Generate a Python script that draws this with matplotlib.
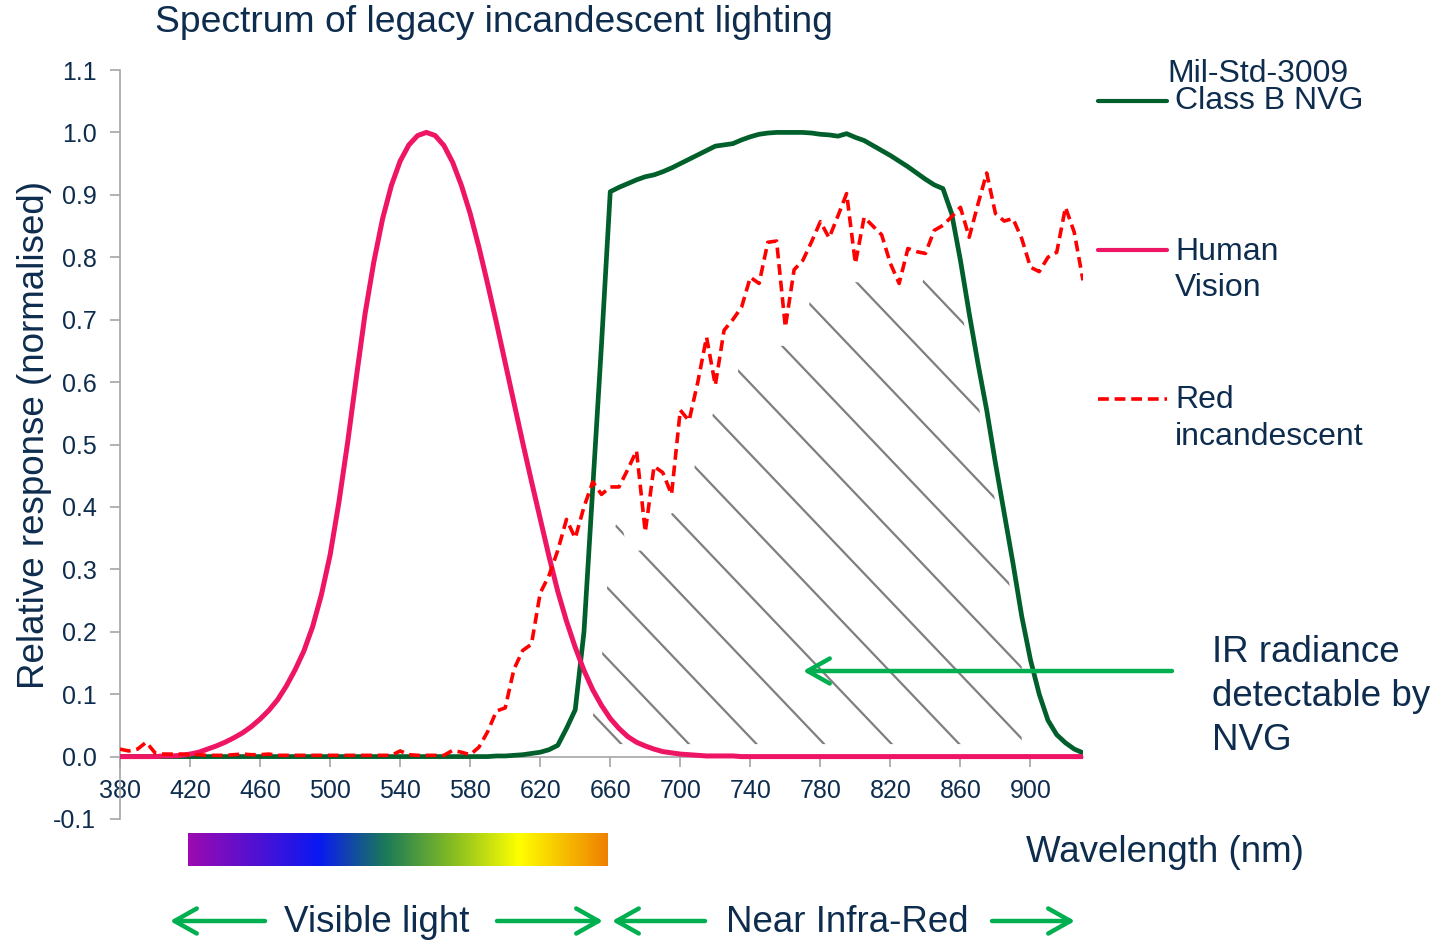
import numpy as np
import matplotlib
matplotlib.use('Agg')
from matplotlib import pyplot as plt
from matplotlib.patches import Polygon
from matplotlib.colors import LinearSegmentedColormap

plt.rcParams['font.family'] = ['Liberation Sans', 'DejaVu Sans']
plt.rcParams['axes.unicode_minus'] = False

# wavelengths (nm), 5 nm steps 380..930
wavelength = np.arange(380, 931, 5)

human_vision = [
    0.000, 0.000, 0.000, 0.000, 0.000, 0.001, 0.001, 0.002, 0.004, 0.007,
    0.012, 0.017, 0.023, 0.030, 0.038, 0.048, 0.060, 0.074, 0.091, 0.113,
    0.139, 0.169, 0.208, 0.259, 0.323, 0.407, 0.503, 0.608, 0.710, 0.793,
    0.862, 0.915, 0.954, 0.980, 0.995, 1.000, 0.995, 0.979, 0.952, 0.915,
    0.870, 0.816, 0.757, 0.695, 0.631, 0.567, 0.503, 0.441, 0.381, 0.321,
    0.265, 0.217, 0.175, 0.138, 0.107, 0.082, 0.061, 0.045, 0.032, 0.023,
    0.017, 0.012, 0.008, 0.006, 0.004, 0.003, 0.002, 0.001, 0.001, 0.001,
    0.001, 0.000, 0.000, 0.000, 0.000, 0.000, 0.000, 0.000, 0.000, 0.000,
    0.000, 0.000, 0.000, 0.000, 0.000, 0.000, 0.000, 0.000, 0.000, 0.000,
    0.000, 0.000, 0.000, 0.000, 0.000, 0.000, 0.000, 0.000, 0.000, 0.000,
    0.000, 0.000, 0.000, 0.000, 0.000, 0.000, 0.000, 0.000, 0.000, 0.000,
    0.000,
]

nvg_class_b = [
    0.000, 0.000, 0.000, 0.000, 0.000, 0.000, 0.000, 0.000, 0.000, 0.000,
    0.000, 0.000, 0.000, 0.000, 0.000, 0.000, 0.000, 0.000, 0.000, 0.000,
    0.000, 0.000, 0.000, 0.000, 0.000, 0.000, 0.000, 0.000, 0.000, 0.000,
    0.000, 0.000, 0.000, 0.000, 0.000, 0.000, 0.000, 0.000, 0.000, 0.000,
    0.000, 0.000, 0.000, 0.001, 0.001, 0.002, 0.003, 0.005, 0.007, 0.011,
    0.018, 0.045, 0.075, 0.200, 0.430, 0.660, 0.905, 0.912, 0.918, 0.924,
    0.929, 0.932, 0.937, 0.943, 0.950, 0.957, 0.964, 0.971, 0.978, 0.980,
    0.982, 0.988, 0.993, 0.997, 0.999, 1.000, 1.000, 1.000, 1.000, 0.999,
    0.997, 0.996, 0.994, 0.998, 0.992, 0.987, 0.979, 0.971, 0.963, 0.954,
    0.945, 0.935, 0.925, 0.916, 0.910, 0.870, 0.795, 0.710, 0.630, 0.555,
    0.470, 0.390, 0.310, 0.225, 0.155, 0.100, 0.058, 0.035, 0.022, 0.012,
    0.006,
]

red_incandescent = [
    0.012, 0.009, 0.012, 0.023, 0.006, 0.004, 0.004, 0.004, 0.003, 0.003,
    0.002, 0.002, 0.002, 0.003, 0.004, 0.003, 0.003, 0.004, 0.002, 0.002,
    0.002, 0.002, 0.002, 0.002, 0.002, 0.002, 0.002, 0.002, 0.002, 0.002,
    0.002, 0.002, 0.009, 0.003, 0.002, 0.002, 0.002, 0.002, 0.010, 0.007,
    0.003, 0.015, 0.040, 0.073, 0.078, 0.140, 0.170, 0.180, 0.262, 0.290,
    0.330, 0.380, 0.350, 0.400, 0.440, 0.420, 0.432, 0.432, 0.460, 0.490,
    0.360, 0.465, 0.455, 0.420, 0.555, 0.538, 0.600, 0.672, 0.595, 0.683,
    0.700, 0.720, 0.768, 0.758, 0.824, 0.826, 0.688, 0.780, 0.795, 0.825,
    0.857, 0.831, 0.866, 0.902, 0.790, 0.864, 0.850, 0.836, 0.790, 0.758,
    0.814, 0.809, 0.806, 0.843, 0.851, 0.865, 0.880, 0.832, 0.885, 0.935,
    0.870, 0.858, 0.862, 0.830, 0.784, 0.777, 0.800, 0.808, 0.880, 0.840,
    0.763,
]

x_ticks = list(range(380, 901, 40))
y_ticks = [-0.1, 0.0, 0.1, 0.2, 0.3, 0.4, 0.5, 0.6, 0.7, 0.8, 0.9, 1.0, 1.1]

W, H = 1451, 943
NAVY = '#0e2d4e'
AXIS_GREY = '#a6a6a6'
ARROW_GREEN = '#00b050'
NVG_GREEN = '#005f2b'
PINK = '#ee1564'
RED = '#ff0000'


def fx(x):
    return x / W


def fy(y):
    return 1 - y / H


fig = plt.figure(figsize=(W / 100, H / 100), dpi=100)
ax = fig.add_axes([fx(120), fy(819), (1083 - 120) / W, (819 - 70) / H])

ax.plot(wavelength, nvg_class_b, color=NVG_GREEN, lw=3.4, zorder=3,
        solid_joinstyle='round')
ax.plot(wavelength, human_vision, color=PINK, lw=3.6, zorder=4,
        solid_joinstyle='round')
ax.plot(wavelength, red_incandescent, color=RED, lw=2.6, zorder=5,
        linestyle=(0, (3.0, 1.6)))

# hatched "IR detectable by NVG" region, shaped from the curves
wl = np.asarray(wavelength, dtype=float)
red = np.asarray(red_incandescent)
nvg = np.asarray(nvg_class_b)
red_floor = np.array([red[max(0, i - 2):i + 3].min() for i in range(len(red))])
hx = np.arange(645, 896, 5, dtype=float)
green_edge = np.minimum(np.interp(hx - 12, wl, nvg), np.interp(hx + 4, wl, nvg))
top = np.minimum(np.interp(hx, wl, red_floor) - 0.03, green_edge)
top = np.maximum(top, 0.02)
verts = list(zip(hx, top)) + [(hx[-1], 0.02), (hx[0], 0.02)]
region = Polygon(verts, closed=True, fill=False, edgecolor='none')
ax.add_patch(region)
slope = 1.75 * 1.05 / 625
for x0 in np.arange(665, 1100, 38.6):
    xs = np.array([x0 - 420, x0 + 20])
    ys = 0.024 + (x0 - xs) * slope
    hl, = ax.plot(xs, ys, color='#7f7f7f', lw=1.6, zorder=2)
    hl.set_clip_path(region)

ax.set_xlim(380, 930)
ax.set_ylim(-0.1, 1.1)
ax.spines['top'].set_visible(False)
ax.spines['right'].set_visible(False)
ax.spines['bottom'].set_position(('data', 0))
for s in ('left', 'bottom'):
    ax.spines[s].set_color(AXIS_GREY)
    ax.spines[s].set_linewidth(1.2)
ax.set_xticks(x_ticks)
ax.set_xticklabels([str(v) for v in x_ticks])
ax.set_yticks(y_ticks)
ax.set_yticklabels(['%.1f' % v for v in y_ticks])
ax.tick_params(axis='both', direction='out', length=7, width=1.2,
               color=AXIS_GREY, labelcolor=NAVY, labelsize=18)
ax.tick_params(axis='x', pad=9)
ax.tick_params(axis='y', pad=10)
ax.patch.set_alpha(0)

# titles and axis labels
fig.text(fx(155), fy(23), 'Spectrum of legacy incandescent lighting',
         fontsize=26.8, color=NAVY, ha='left', va='center')
fig.text(fx(35), fy(435), 'Relative response (normalised)', rotation=90,
         fontsize=26.5, color=NAVY, ha='center', va='center')
fig.text(fx(1165), fy(853), 'Wavelength (nm)', fontsize=26.5, color=NAVY,
         ha='center', va='center')

# legend drawn by hand to the right of the plot
legend_rows = [
    (101, NVG_GREEN, '-', 3.0, [(1167, 74, 'Mil-Std-3009'), (1175, 101, 'Class B NVG')]),
    (250, PINK, '-', 3.0, [(1175, 252, 'Human'), (1175, 288, 'Vision')]),
    (399, RED, (0, (3.0, 1.6)), 2.6, [(1175, 400, 'Red'), (1175, 437, 'incandescent')]),
]
for ly, col, ls, lw, texts in legend_rows:
    fig.add_artist(plt.Line2D([fx(1098), fx(1167)], [fy(ly), fy(ly)], color=col,
                              lw=lw, linestyle=ls, solid_capstyle='round'))
    for tx, ty, t in texts:
        fig.text(fx(tx), fy(ty), t, fontsize=23, color=NAVY, ha='left', va='center')

# IR annotation
for i, t in enumerate(['IR radiance', 'detectable by', 'NVG']):
    fig.text(fx(1212), fy(652 + 44 * i), t, fontsize=26.5, color=NAVY,
             ha='left', va='center')


def green_arrow(x_from, x_to, y):
    fig.add_artist(matplotlib.patches.FancyArrowPatch(
        (fx(x_from), fy(y)), (fx(x_to), fy(y)), transform=fig.transFigure,
        arrowstyle='->,head_length=0.8,head_width=0.45', mutation_scale=20,
        color=ARROW_GREEN, lw=3.2, shrinkA=0, shrinkB=0))


green_arrow(1172, 803, 671)

# visible / near IR bands
green_arrow(265, 170, 921)
green_arrow(497, 603, 921)
green_arrow(705, 612, 921)
green_arrow(992, 1075, 921)
fig.text(fx(377), fy(922), 'Visible light', fontsize=26.5, color=NAVY,
         ha='center', va='center')
fig.text(fx(847), fy(922), 'Near Infra-Red', fontsize=26.5, color=NAVY,
         ha='center', va='center')

# spectrum colour bar
spectrum = LinearSegmentedColormap.from_list('spectrum', [
    (0.0, '#9c0ab0'), (0.31, '#0a18f2'), (0.47, '#1a7a58'),
    (0.64, '#8cc020'), (0.79, '#ffff00'), (1.0, '#ef8000')])
cax = fig.add_axes([fx(188), fy(866), 420 / W, 33 / H])
cax.imshow(np.linspace(0, 1, 256)[None, :], cmap=spectrum, aspect='auto')
cax.axis('off')

fig.savefig('out.png', dpi=100)
